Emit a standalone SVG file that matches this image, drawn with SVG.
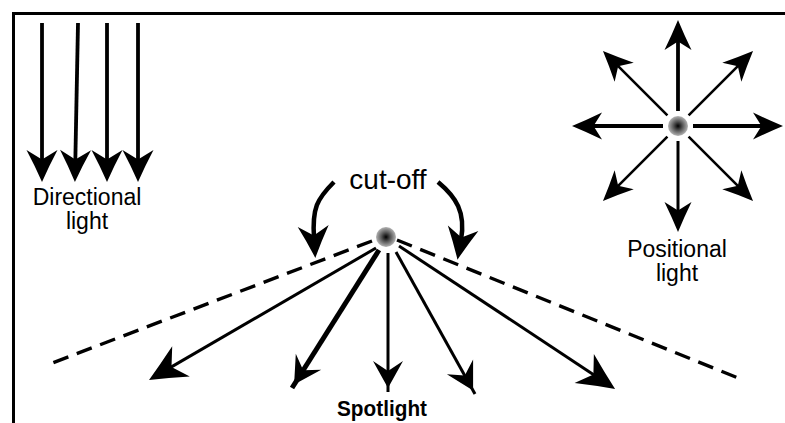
<svg xmlns="http://www.w3.org/2000/svg" width="785" height="423" viewBox="0 0 785 423">
  <style>
    .ln { fill: none; stroke: #000; stroke-width: 3; }
    .thin { stroke-width: 2.6; }
    .bold { stroke-width: 3.8; }
    .thick { stroke-width: 5; }
    .dash { fill: none; stroke: #000; stroke-width: 3.4; stroke-dasharray: 16 9; }
    .head { fill: #000; stroke: none; }
    .lbl { font-family: "Liberation Sans", Arial, sans-serif; font-size: 23px; fill: #000; text-anchor: middle; }
    .big { font-size: 28px; }
    .strong { font-weight: bold; font-size: 22.5px; }
  </style>
  <defs>
    <!-- barbed arrowheads; the line ends inside the head, the tip sits ahead of it -->
    <marker id="ahD" viewBox="-15 -18 40 36" markerWidth="40" markerHeight="36" refX="0" refY="0" orient="auto" markerUnits="userSpaceOnUse" overflow="visible">
      <path d="M20,0 Q4,-7 -12,-15.5 L-2.5,0 L-12,15.5 Q4,7 20,0 Z" fill="#000"/>
    </marker>
    <marker id="ahP" viewBox="-15 -18 40 36" markerWidth="40" markerHeight="36" refX="0" refY="0" orient="auto" markerUnits="userSpaceOnUse" overflow="visible">
      <path d="M19,0 Q4,-6.2 -11,-13.5 L-2.5,0 L-11,13.5 Q4,6.2 19,0 Z" fill="#000"/>
    </marker>
    <marker id="ahS" viewBox="-18 -20 45 40" markerWidth="45" markerHeight="40" refX="0" refY="0" orient="auto" markerUnits="userSpaceOnUse" overflow="visible">
      <path d="M23,0 Q5,-8 -14,-17.5 L-3,0 L-14,17.5 Q5,8 23,0 Z" fill="#000"/>
    </marker>
    <radialGradient id="bulb" cx="0.5" cy="0.5" r="0.5">
      <stop offset="0" stop-color="#000"/>
      <stop offset="0.45" stop-color="#555"/>
      <stop offset="1" stop-color="#b4b4b4"/>
    </radialGradient>
  </defs>

  <!-- frame -->
  <path d="M13.5,423 V13.5 H785" fill="none" stroke="#000" stroke-width="3"/>

  <!-- directional light -->
  <g id="directional">
    <line class="ln bold" x1="42" y1="23" x2="42" y2="162" marker-end="url(#ahD)"/>
    <line class="ln bold" x1="78" y1="23" x2="75.3" y2="162" marker-end="url(#ahD)"/>
    <line class="ln bold" x1="107" y1="23" x2="107" y2="162" marker-end="url(#ahD)"/>
    <line class="ln bold" x1="138" y1="23" x2="138" y2="162" marker-end="url(#ahD)"/>
    <text class="lbl" x="87" y="205">Directional</text>
    <text class="lbl" x="87" y="229">light</text>
  </g>

  <!-- positional light -->
  <g id="positional">
    <line class="ln bold" x1="678" y1="111" x2="678" y2="39" marker-end="url(#ahP)"/>
    <line class="ln" x1="678" y1="141" x2="678" y2="213" marker-end="url(#ahP)"/>
    <line class="ln bold" x1="663" y1="126" x2="591" y2="126" marker-end="url(#ahP)"/>
    <line class="ln bold" x1="693" y1="126" x2="764" y2="126" marker-end="url(#ahP)"/>
    <line class="ln thin" x1="667.4" y1="115.4" x2="616.4" y2="64.4" marker-end="url(#ahP)"/>
    <line class="ln thin" x1="688.6" y1="115.4" x2="739.6" y2="64.4" marker-end="url(#ahP)"/>
    <line class="ln thin" x1="667.4" y1="136.6" x2="616.4" y2="187.6" marker-end="url(#ahP)"/>
    <line class="ln thin" x1="688.6" y1="136.6" x2="739.6" y2="187.6" marker-end="url(#ahP)"/>
    <circle cx="678" cy="126" r="10" fill="url(#bulb)"/>
    <text class="lbl" x="677" y="257">Positional</text>
    <text class="lbl" x="677" y="281">light</text>
  </g>

  <!-- spotlight -->
  <g id="spotlight">
    <line class="dash" x1="372" y1="241" x2="47" y2="365"/>
    <line class="dash" x1="397" y1="240" x2="743" y2="380"/>
    <line class="ln" x1="376" y1="248" x2="168.9" y2="368.4" marker-end="url(#ahS)"/>
    <!-- the three central rays: the shaft runs slightly past the head tip -->
    <line class="ln thick" x1="379" y1="250" x2="292" y2="388"/>
    <path class="head" d="M294.1,384.6 L321.2,369.8 L303.2,370.2 L295.8,353.8 Z"/>
    <line class="ln" x1="388" y1="253" x2="388" y2="392"/>
    <path class="head" d="M388,388 L373,361 L388,371 L403,361 Z"/>
    <line class="ln" x1="396" y1="252" x2="475" y2="394"/>
    <path class="head" d="M473.1,390.5 L473.1,359.6 L464.8,375.6 L446.9,374.2 Z"/>
    <line class="ln" x1="399" y1="246" x2="595.9" y2="376.2" marker-end="url(#ahS)"/>
    <circle cx="386" cy="237" r="10" fill="url(#bulb)"/>
    <text class="lbl strong" x="382" y="416" textLength="90" lengthAdjust="spacingAndGlyphs">Spotlight</text>
  </g>

  <!-- cut-off angle -->
  <g id="cutoff">
    <text class="lbl big" x="388" y="189">cut-off</text>
    <path class="ln" style="stroke-width:4.5" d="M334,182 C317,199 312,208 314,238" marker-end="url(#ahD)"/>
    <path class="ln" style="stroke-width:4.5" d="M438,182 C456,197 466,212 461,240" marker-end="url(#ahD)"/>
  </g>
</svg>
